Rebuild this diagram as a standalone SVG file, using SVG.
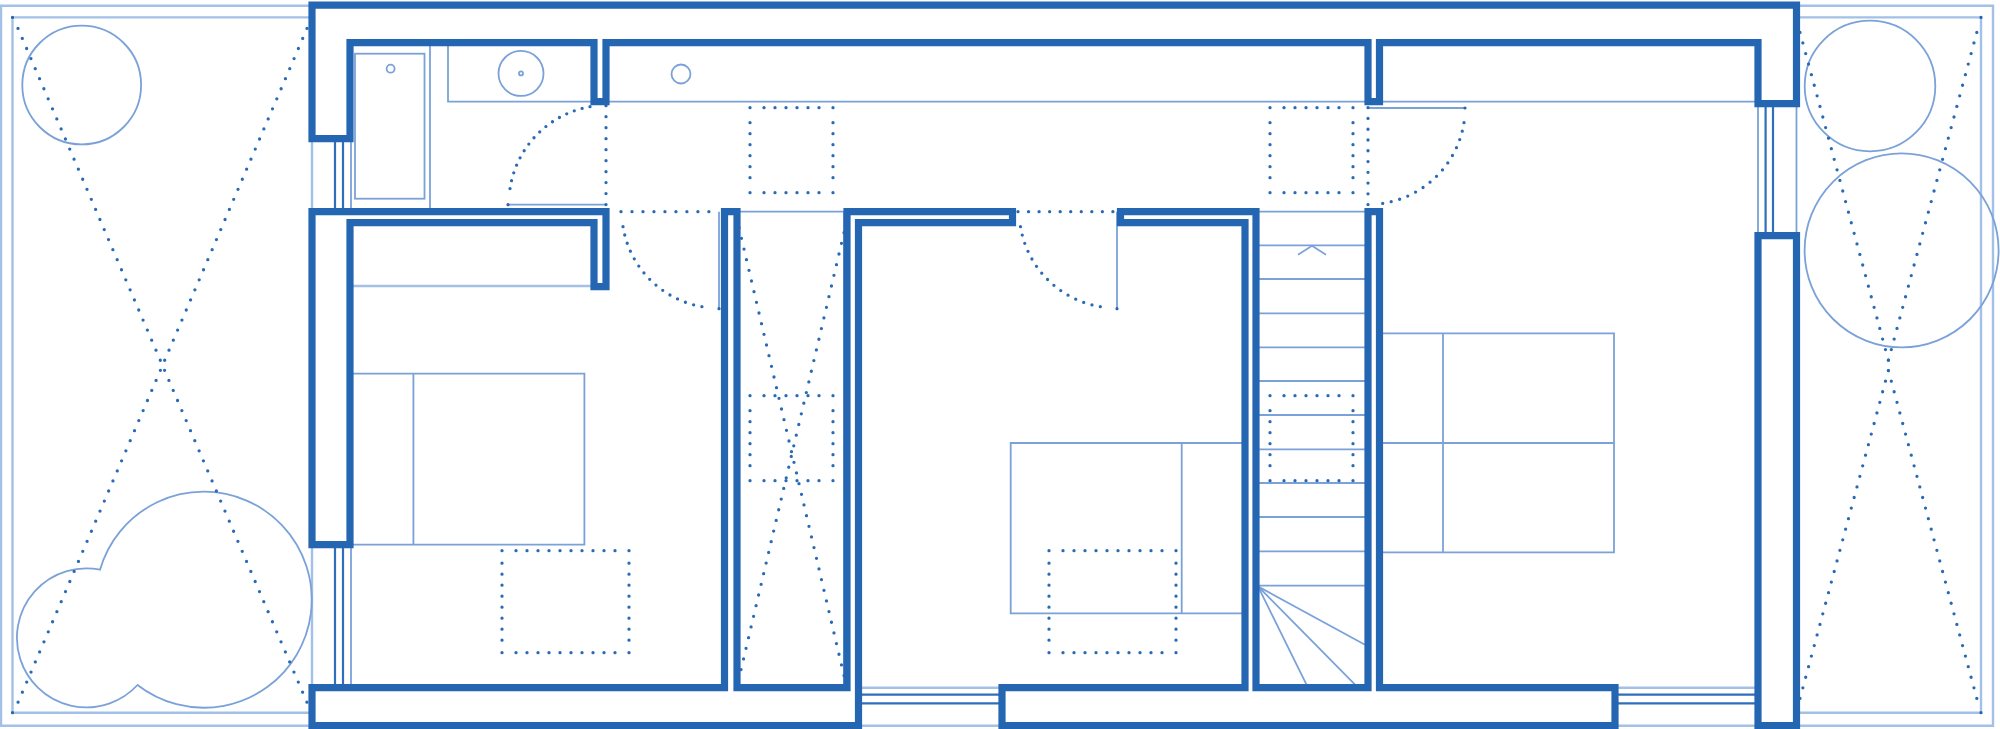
<svg xmlns="http://www.w3.org/2000/svg" width="2000" height="729" viewBox="0 0 2000 729">
<style>
.wall{fill:none;stroke:#2566b2;stroke-width:7.2;stroke-linejoin:miter}
.thin{fill:none;stroke:#7ba2d8;stroke-width:1.8}
.pale{fill:none;stroke:#a3c0e6;stroke-width:2.4}
.med{fill:none;stroke:#2f6fba;stroke-width:2.2}
.pt{fill:none;stroke:#2566b2;stroke-width:3.2;stroke-linecap:round}
.dot{fill:none;stroke:#2a6ab5;stroke-width:3.3;stroke-linecap:round;stroke-dasharray:0 1}
.sq{fill:none;stroke:#2a6ab5;stroke-width:3.3;stroke-linecap:round;stroke-dasharray:0 14 0 11 0 11 0 11 0 11 0 11 0 14 0 15 0 11 0 11 0 11 0 11 0 11 0 15 0 14 0 11 0 11 0 11 0 11 0 11 0 14 0 15 0 11 0 11 0 11 0 11 0 11 0 15}
.lg{fill:none;stroke:#2a6ab5;stroke-width:3.3;stroke-linecap:round;stroke-dasharray:0 14 0 11 0 11 0 11 0 11 0 11 0 11 0 11 0 11 0 11 0 14 0 12.5 0 11 0 11 0 11 0 11 0 11 0 11 0 11 0 12.5 0 14 0 11 0 11 0 11 0 11 0 11 0 11 0 11 0 11 0 11 0 14 0 12.5 0 11 0 11 0 11 0 11 0 11 0 11 0 11 0 12.5}
</style>
<rect width="2000" height="729" fill="#fff"/>
<g id="plan" transform="translate(0 0.7)">
<g id="terrace-left">
<path class="pale" d="M312 5H1V725H312M312 16.7H12.5V712H312M312 138V687"/>
<circle class="thin" cx="81.7" cy="84.3" r="59.4"/>
<path class="thin" d="M100 569A108 108 0 1 1 137.5 684.3A69.5 69.5 0 1 1 100 569Z"/>
<path class="dot" pathLength="67.02" d="M18 27.7L307 701.7"/>
<path class="dot" pathLength="67.02" d="M307 27.7L18 701.7"/>
<path class="pt" d="M12.5 16.7h0M12.5 712h0"/>
</g>
<g id="terrace-right">
<path class="pale" d="M1796.5 5H1993V725H1796.5M1796.5 16.7H1981V712H1796.5"/>
<circle class="thin" cx="1870" cy="85.3" r="65.3"/>
<circle class="thin" cx="1901.6" cy="249.7" r="97"/>
<path class="dot" pathLength="31.02" d="M1800 31.7L1888.4 359.7"/>
<path class="dot" pathLength="31.02" d="M1976.8 31.7L1888.4 359.7"/>
<path class="dot" pathLength="31.02" d="M1800 697.7L1888.4 369.7"/>
<path class="dot" pathLength="31.02" d="M1976.8 697.7L1888.4 369.7"/>
<path class="pt" d="M1981 16.7h0M1981 712h0"/>
</g>
<g id="windows">
<path class="thin" d="M351 138V211M351 544V687M1758 103V235M1796.5 103V235"/>
<path class="med" d="M335 138V211M343 138V211M335 544V687M343 544V687M1765.6 103V235M1773 103V235"/>
<path class="pale" d="M858.5 687H1002M858.5 725H1002M1615 687H1758M1615 725H1758"/>
<path class="med" d="M858.5 694H1002M858.5 702.7H1002M1615 694H1758M1615 702.7H1758"/>
</g>
<g id="bathroom">
<path class="thin" d="M430 42V211M448 42V101H1758"/>
<rect class="thin" x="355" y="53" width="69.5" height="145"/>
<circle class="thin" cx="390.6" cy="68" r="4"/>
<circle class="thin" cx="521" cy="72.7" r="22.5"/>
<circle class="thin" cx="521" cy="72.7" r="2"/>
<circle class="thin" cx="681" cy="73.3" r="9.5"/>
</g>
<g id="beds">
<path class="pale" d="M350 285.3H594"/>
<path class="thin" d="M350 373H584.4V544H350M413.4 373V544"/>
<path class="thin" d="M1245 442.3H1010.7V612.7H1245M1181.7 442.3V612.7"/>
<path class="thin" d="M1379.5 332.7H1614V551.7H1379.5M1379.5 442.3H1614M1443 332.7V551.7"/>
</g>
<g id="stairs">
<path class="thin" d="M740 211H847M844 211V687M1256 211H1368M1256 244.7H1368M1256 278.3H1368M1256 312.7H1368M1256 346.7H1368M1256 380.3H1368M1256 414.3H1368M1256 448.7H1368M1256 482.3H1368M1256 516.3H1368M1256 550.7H1368M1256 585H1368"/>
<path class="thin" d="M1298 254L1312 245L1326 254M1258 585.7L1365 644M1258 585.7L1356 685M1258 585.7L1307 685"/>
</g>
<g id="doors">
<path class="thin" d="M508 204H606M719 211V308M1117 211V308M1367 107.3H1465"/>
<path class="pt" d="M508 204h0M719 308h0M1117 308h0M1465 107.3h0"/>
<path class="dot" pathLength="15.01" d="M590 106A98 98 0 0 0 510 188"/>
<path class="dot" pathLength="9.01" d="M606 105V204"/>
<path class="dot" pathLength="8.01" d="M621 211H709"/>
<path class="dot" pathLength="14.01" d="M623 226A97 97 0 0 0 702 306"/>
<path class="dot" pathLength="9.01" d="M1018 211H1113"/>
<path class="dot" pathLength="14.01" d="M1020.5 226A97 97 0 0 0 1100.4 306"/>
<path class="dot" pathLength="9.01" d="M1368 107V204"/>
<path class="dot" pathLength="14.01" d="M1464 122A97 97 0 0 1 1382.6 202.7"/>
</g>
<g id="corridor-cross">
<path class="dot" pathLength="42.01" d="M739 227L844 675"/>
<path class="dot" pathLength="41.01" d="M844 232L741 669"/>
</g>
<g id="dotted-squares">
<path class="sq" d="M750 107H833V192H750Z"/>
<path class="sq" d="M1270 107H1353V192H1270Z"/>
<path class="sq" d="M750 395H833V480H750Z"/>
<path class="sq" d="M1270 395H1353V480H1270Z"/>
<path class="lg" d="M502 550H629V652H502Z"/>
<path class="lg" d="M1049 550H1176V652H1049Z"/>
</g>
<g id="walls">
<path class="wall" d="M312 4.5H1796.5V103H1758V42H1379.5V101H1368V42H606V101H594V42H350V138H312Z"/>
<path class="wall" d="M312 211H606V286H594V222H350V544H312Z"/>
<path class="wall" d="M847 211H1012.5V222H858.5V725H312V687H724.5V211H737V687H847Z"/>
<path class="wall" d="M1120.5 211H1256V687H1368V211H1379.5V687H1615V725H1002V687H1245V222H1120.5Z"/>
<path class="wall" d="M1758 235H1796.5V725H1758Z"/>
</g>
</g>
</svg>
